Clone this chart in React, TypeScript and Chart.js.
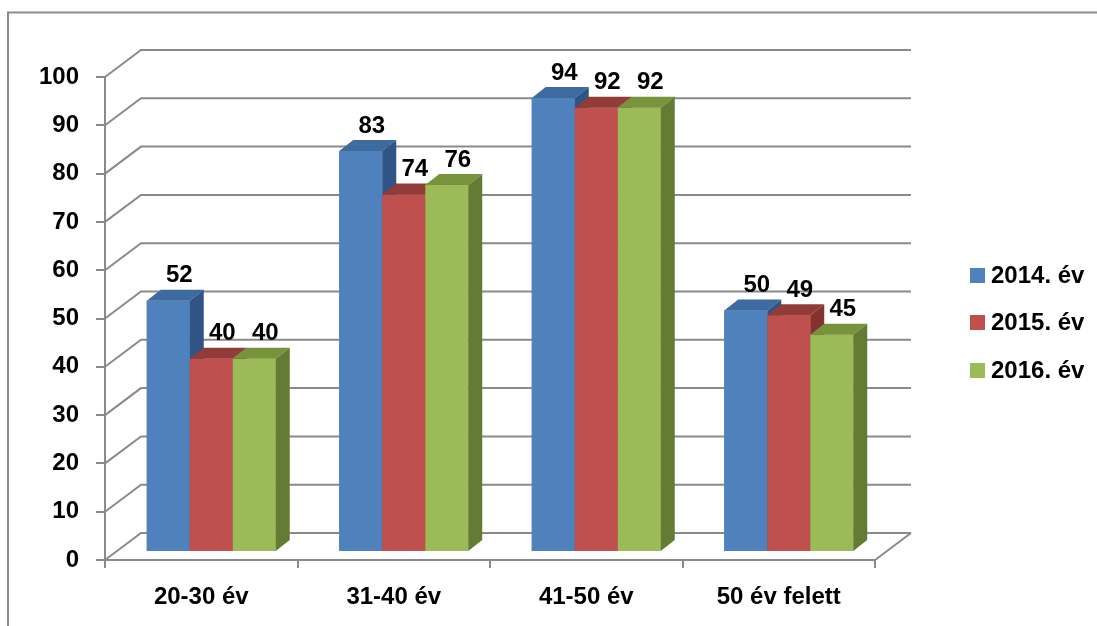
import React, { useEffect, useRef } from "react";
import { Chart, registerables } from "chart.js";

Chart.register(...registerables);

const categories = ["20-30 év", "31-40 év", "41-50 év", "50 év felett"];
const seriesNames = ["2014. év", "2015. év", "2016. év"];
const values2014 = [52, 83, 94, 50];
const values2015 = [40, 74, 92, 49];
const values2016 = [40, 76, 92, 45];
const seriesValues = [values2014, values2015, values2016];
const yTickValues = [0, 10, 20, 30, 40, 50, 60, 70, 80, 90, 100];

const FRONT = ["#4F81BD", "#C0504D", "#9BBB59"];
const TOP = ["#3D6A9F", "#923C3A", "#77933C"];
const SIDE = ["#2F5485", "#83322F", "#637B33"];
const GRID = "#8a8a8a";
const FONT = "bold 24px 'Liberation Sans', Arial, sans-serif";

const WALL_DX = 36;
const WALL_DY = 27;
const BAR_SHIFT_X = 10;
const BAR_SHIFT_Y = 8;
const BAR_DX = 14;
const BAR_DY = 11;

const plugin3d = {
  id: "plugin3d",
  beforeDatasetsDraw(chart: any) {
    const ctx = chart.ctx as CanvasRenderingContext2D;
    const ys = chart.scales.y;
    const xs = chart.scales.x;
    const left = xs.left;
    const right = xs.right;
    ctx.save();
    ctx.strokeStyle = GRID;
    ctx.lineWidth = 2;
    ctx.lineCap = "butt";
    for (const v of yTickValues) {
      const y = ys.getPixelForValue(v);
      ctx.beginPath();
      ctx.moveTo(left, y);
      ctx.lineTo(left + WALL_DX, y - WALL_DY);
      ctx.lineTo(right + WALL_DX, y - WALL_DY);
      ctx.stroke();
    }
    const y0 = ys.getPixelForValue(0);
    ctx.beginPath();
    ctx.moveTo(right, y0);
    ctx.lineTo(right + WALL_DX, y0 - WALL_DY);
    ctx.stroke();
    ctx.restore();

    ctx.save();
    ctx.translate(BAR_SHIFT_X, -BAR_SHIFT_Y);
  },
  afterDatasetsDraw(chart: any) {
    const ctx = chart.ctx as CanvasRenderingContext2D;
    const metas = seriesNames.map((_, i) => chart.getDatasetMeta(i));
    for (let c = 0; c < categories.length; c++) {
      for (let d = 0; d < metas.length; d++) {
        const el = metas[d].data[c];
        const { x, y, base, width } = el.getProps(["x", "y", "base", "width"], true);
        const l = x - width / 2;
        const r = x + width / 2;
        ctx.fillStyle = FRONT[d];
        ctx.fillRect(l, y, width, base - y);
        ctx.fillStyle = TOP[d];
        ctx.beginPath();
        ctx.moveTo(l, y);
        ctx.lineTo(l + BAR_DX, y - BAR_DY);
        ctx.lineTo(r + BAR_DX, y - BAR_DY);
        ctx.lineTo(r, y);
        ctx.closePath();
        ctx.fill();
        ctx.fillStyle = SIDE[d];
        ctx.beginPath();
        ctx.moveTo(r, y);
        ctx.lineTo(r + BAR_DX, y - BAR_DY);
        ctx.lineTo(r + BAR_DX, base - BAR_DY);
        ctx.lineTo(r, base);
        ctx.closePath();
        ctx.fill();
      }
    }
    ctx.fillStyle = "#000";
    ctx.font = FONT;
    ctx.textAlign = "center";
    ctx.textBaseline = "middle";
    for (let d = 0; d < metas.length; d++) {
      for (let c = 0; c < categories.length; c++) {
        const el = metas[d].data[c];
        const { x, y } = el.getProps(["x", "y"], true);
        ctx.fillText(String(seriesValues[d][c]), x + 11, y - 25);
      }
    }
    ctx.restore();
  },
  afterDraw(chart: any) {
    const ctx = chart.ctx as CanvasRenderingContext2D;
    ctx.save();
    // outer frame
    ctx.strokeStyle = "#8c8c8c";
    ctx.lineWidth = 2;
    ctx.beginPath();
    ctx.moveTo(8, 626);
    ctx.lineTo(8, 12.5);
    ctx.lineTo(1097, 12.5);
    ctx.stroke();
    // legend
    ctx.font = FONT;
    ctx.textAlign = "left";
    ctx.textBaseline = "middle";
    const legendY = [275, 322, 370];
    seriesNames.forEach((name, i) => {
      ctx.fillStyle = FRONT[i];
      ctx.fillRect(970, legendY[i] - 7, 15, 15);
      ctx.fillStyle = "#000";
      ctx.fillText(name, 991, legendY[i] + 1);
    });
    ctx.restore();
  },
};

export default function App() {
  const ref = useRef<HTMLCanvasElement>(null);
  useEffect(() => {
    const canvas = ref.current!;
    const tickFont = { family: "'Liberation Sans', Arial, sans-serif", size: 24, weight: "bold" as const };
    const chart = new Chart(canvas, {
      type: "bar",
      data: {
        labels: categories,
        datasets: seriesNames.map((name, i) => ({
          label: name,
          data: seriesValues[i],
          backgroundColor: FRONT[i],
          borderWidth: 0,
          clip: false as any,
        })),
      },
      options: {
        responsive: false,
        animation: false,
        devicePixelRatio: 1,
        layout: { padding: { top: 77, right: 222, left: 0, bottom: 0 } },
        datasets: { bar: { categoryPercentage: 0.67, barPercentage: 1 } },
        plugins: { legend: { display: false }, tooltip: { enabled: false } },
        scales: {
          x: {
            offset: true,
            grid: { drawOnChartArea: false, drawTicks: true, tickLength: 8, color: GRID, lineWidth: 2, offset: true },
            border: { display: true, color: GRID, width: 2 },
            ticks: { color: "#000", font: tickFont, padding: 15, maxRotation: 0 },
            afterFit: (s: any) => {
              s.height = 66;
            },
          },
          y: {
            min: 0,
            max: 100,
            afterBuildTicks: (s: any) => {
              s.ticks = yTickValues.map((v) => ({ value: v }));
            },
            grid: { drawOnChartArea: false, drawTicks: true, tickLength: 9, color: GRID, lineWidth: 2 },
            border: { display: true, color: GRID, width: 2 },
            ticks: { color: "#000", font: tickFont, padding: 17 },
            afterFit: (s: any) => {
              s.width = 105;
            },
          },
        },
      },
      plugins: [plugin3d],
    });
    return () => chart.destroy();
  }, []);
  return (
    <div style={{ position: "fixed", left: 0, top: 0, width: 1097, height: 626, background: "#fff" }}>
      <canvas ref={ref} width={1097} height={626} style={{ width: 1097, height: 626, display: "block" }} />
    </div>
  );
}
